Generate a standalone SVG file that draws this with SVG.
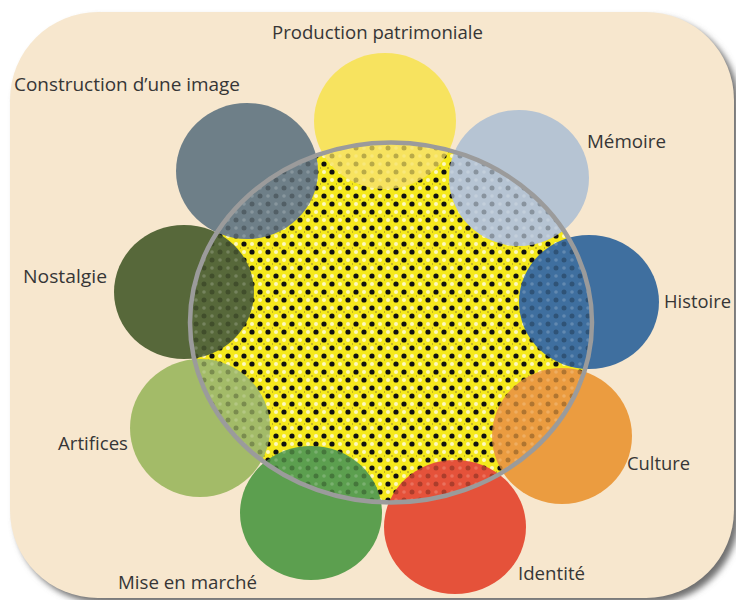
<svg xmlns="http://www.w3.org/2000/svg" width="736" height="600" viewBox="0 0 736 600">
  <style>
    .lbl { font-family: "Open Sans", "Liberation Sans", sans-serif; font-size: 18px; font-weight: 500; fill: #363636; }
    .petal { stroke: none; }
  </style>
  <defs>
    <filter id="shadow" x="-5%" y="-5%" width="115%" height="115%">
      <feGaussianBlur stdDeviation="3"/>
    </filter>
    <!-- bright halftone for the open core -->
    <pattern id="dotsStrong" width="16" height="16" patternUnits="userSpaceOnUse">
      <rect width="16" height="16" fill="#f5e91c"/>
      <circle cx="4" cy="4" r="2.6" fill="#111"/>
      <circle cx="12" cy="12" r="2.6" fill="#111"/>
      <circle cx="12" cy="4" r="2" fill="#fffbe6" opacity="0.8"/>
      <circle cx="4" cy="12" r="2" fill="#fffbe6" opacity="0.8"/>
      <circle cx="8" cy="8" r="1" fill="#8a7a30" opacity="0.6"/>
      <circle cx="0" cy="8" r="1" fill="#8a7a30" opacity="0.6"/>
    </pattern>
    <!-- faint halftone laid over the petals inside the core -->
    <pattern id="dotsFaint" width="16" height="16" patternUnits="userSpaceOnUse">
      <circle cx="4" cy="4" r="2.5" fill="#000" opacity="0.25"/>
      <circle cx="12" cy="12" r="2.5" fill="#000" opacity="0.25"/>
      <circle cx="12" cy="4" r="1.8" fill="#fff" opacity="0.18"/>
      <circle cx="4" cy="12" r="1.8" fill="#fff" opacity="0.18"/>
    </pattern>
    <clipPath id="coreClip">
      <ellipse cx="391" cy="322.5" rx="201" ry="180"/>
    </clipPath>
  </defs>

  <!-- card -->
  <rect x="15" y="17" width="724" height="586" rx="88" ry="88" fill="#707070" filter="url(#shadow)"/>
  <rect x="10" y="12" width="724" height="586" rx="88" ry="88" fill="#f7e7ce"/>

  <!-- core fill -->
  <g id="core">
    <ellipse cx="391" cy="322.5" rx="201" ry="180" fill="url(#dotsStrong)"/>
  </g>

  <g id="production">
    <ellipse class="petal" cx="385" cy="121" rx="71" ry="68" fill="#f7e35f"/>
    <text class="lbl" x="272" y="39" textLength="211" lengthAdjust="spacingAndGlyphs">Production patrimoniale</text>
  </g>
  <g id="memoire">
    <ellipse class="petal" cx="519" cy="178" rx="70" ry="68" fill="#b6c4d3"/>
    <text class="lbl" x="587" y="148" textLength="79" lengthAdjust="spacingAndGlyphs">Mémoire</text>
  </g>
  <g id="histoire">
    <ellipse class="petal" cx="589" cy="302" rx="70" ry="67" fill="#3f6f9f"/>
    <text class="lbl" x="664" y="308" textLength="67" lengthAdjust="spacingAndGlyphs">Histoire</text>
  </g>
  <g id="culture">
    <ellipse class="petal" cx="562" cy="436" rx="70" ry="68" fill="#eb9c40"/>
    <text class="lbl" x="627" y="470" textLength="63" lengthAdjust="spacingAndGlyphs">Culture</text>
  </g>
  <g id="mise-en-marche">
    <ellipse class="petal" cx="311" cy="513" rx="71" ry="67" fill="#5c9f4f"/>
    <text class="lbl" x="118" y="589" textLength="139" lengthAdjust="spacingAndGlyphs">Mise en marché</text>
  </g>
  <g id="identite">
    <ellipse class="petal" cx="455" cy="527" rx="71" ry="67" fill="#e5523a"/>
    <text class="lbl" x="518" y="580" textLength="67" lengthAdjust="spacingAndGlyphs">Identité</text>
  </g>
  <g id="artifices">
    <ellipse class="petal" cx="200" cy="428" rx="70" ry="69" fill="#a3bb68"/>
    <text class="lbl" x="58" y="450" textLength="70" lengthAdjust="spacingAndGlyphs">Artifices</text>
  </g>
  <g id="nostalgie">
    <ellipse class="petal" cx="184" cy="292" rx="70" ry="67" fill="#57683a"/>
    <text class="lbl" x="23" y="283" textLength="84" lengthAdjust="spacingAndGlyphs">Nostalgie</text>
  </g>
  <g id="construction">
    <ellipse class="petal" cx="247" cy="171" rx="71" ry="68" fill="#6e7f88"/>
    <text class="lbl" x="14" y="91" textLength="226" lengthAdjust="spacingAndGlyphs">Construction d’une image</text>
  </g>

  <!-- halftone over petals inside the core, then the core outline -->
  <g id="core-overlay">
    <g clip-path="url(#coreClip)">
      <ellipse cx="385" cy="121" rx="71" ry="68" fill="url(#dotsFaint)"/>
      <ellipse cx="519" cy="178" rx="70" ry="68" fill="url(#dotsFaint)"/>
      <ellipse cx="589" cy="302" rx="70" ry="67" fill="url(#dotsFaint)"/>
      <ellipse cx="562" cy="436" rx="70" ry="68" fill="url(#dotsFaint)"/>
      <ellipse cx="311" cy="513" rx="71" ry="67" fill="url(#dotsFaint)"/>
      <ellipse cx="455" cy="527" rx="71" ry="67" fill="url(#dotsFaint)"/>
      <ellipse cx="200" cy="428" rx="70" ry="69" fill="url(#dotsFaint)"/>
      <ellipse cx="184" cy="292" rx="70" ry="67" fill="url(#dotsFaint)"/>
      <ellipse cx="247" cy="171" rx="71" ry="68" fill="url(#dotsFaint)"/>
    </g>
    <ellipse cx="391" cy="322.5" rx="201" ry="180" fill="none" stroke="#9b9b9b" stroke-width="4.5"/>
  </g>

  <g id="connectors"/>
</svg>
